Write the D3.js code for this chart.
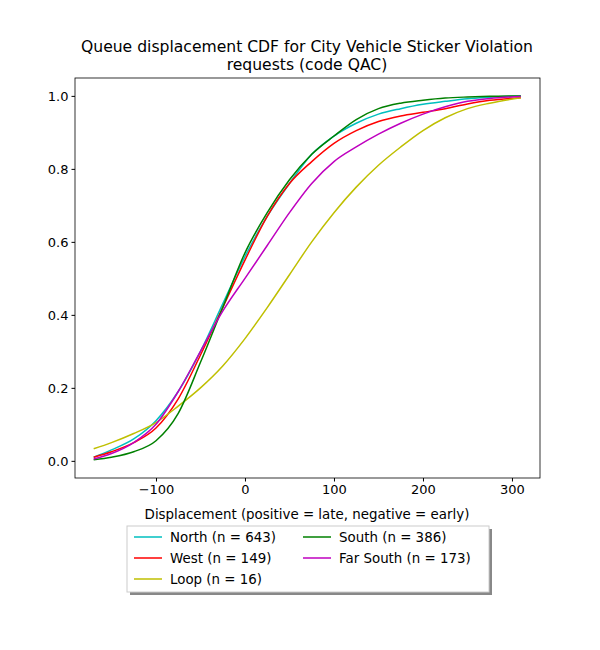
<!DOCTYPE html>
<html><head><meta charset="utf-8">
<script src="https://cdn.jsdelivr.net/npm/d3@7"></script>
<style>body{margin:0;background:#fff}text{font-family:"DejaVu Sans",sans-serif}</style>
</head><body><svg id="c" width="600" height="650"></svg>
<script>
const xs = [-170,-150,-125,-100,-75,-50,-25,0,25,50,75,100,125,150,175,200,225,250,275,310];
const north = [0.01,0.03,0.06,0.11,0.19,0.30,0.43,0.56,0.67,0.76,0.84,0.89,0.925,0.95,0.965,0.977,0.985,0.992,0.996,1.0];
const west = [0.01,0.025,0.05,0.09,0.17,0.29,0.42,0.55,0.67,0.76,0.82,0.87,0.905,0.93,0.945,0.955,0.965,0.978,0.988,0.995];
const loop = [0.033,0.05,0.075,0.105,0.15,0.20,0.26,0.335,0.42,0.51,0.60,0.68,0.75,0.81,0.86,0.905,0.94,0.965,0.98,0.995];
const south = [0.003,0.01,0.025,0.055,0.13,0.27,0.42,0.57,0.68,0.77,0.84,0.89,0.935,0.965,0.98,0.988,0.994,0.997,0.999,1.0];
const farSouth = [0.005,0.02,0.05,0.10,0.19,0.30,0.41,0.50,0.59,0.68,0.76,0.82,0.86,0.895,0.925,0.95,0.97,0.985,0.993,0.998];
const names = ["North (n = 643)","West (n = 149)","Loop (n = 16)","South (n = 386)","Far South (n = 173)"];
const colors = ["#00bfbf","#ff0000","#bfbf00","#008000","#bf00bf"];
const series = [north,west,loop,south,farSouth];
const xTicks = [-100,0,100,200,300];
const yTicks = [0,0.2,0.4,0.6,0.8,1.0];

const svg = d3.select("#c");
const L=75,R=540,T=78,B=478;
const x = d3.scaleLinear().domain([-191,331.5]).range([L,R]);
const y = d3.scaleLinear().domain([-0.047,1.049]).range([B,T]);
const line = d3.line().x((d,i)=>x(xs[i])).y(d=>y(d)).curve(d3.curveMonotoneX);
series.forEach((s,i)=>svg.append("path").attr("d",line(s)).attr("fill","none").attr("stroke",colors[i]).attr("stroke-width",1.5));
svg.append("rect").attr("x",L).attr("y",T).attr("width",R-L).attr("height",B-T).attr("fill","none").attr("stroke","#000").attr("stroke-width",0.8);
const xa = svg.append("g").attr("transform",`translate(0,${B})`).call(d3.axisBottom(x).tickValues(xTicks).tickSize(3.5).tickFormat(d=>d<0?"−"+(-d):d));
const ya = svg.append("g").attr("transform",`translate(${L},0)`).call(d3.axisLeft(y).tickValues(yTicks).tickSize(3.5).tickFormat(d3.format(".1f")));
[xa,ya].forEach(a=>{a.select(".domain").remove();a.selectAll("text").attr("font-size",13).attr("fill","#000");});
svg.append("text").attr("x",307).attr("y",52).attr("text-anchor","middle").attr("font-size",15.6).text("Queue displacement CDF for City Vehicle Sticker Violation");
svg.append("text").attr("x",307).attr("y",70).attr("text-anchor","middle").attr("font-size",15.6).text("requests (code QAC)");
svg.append("text").attr("x",307).attr("y",519).attr("text-anchor","middle").attr("font-size",13.4).text("Displacement (positive = late, negative = early)");
svg.append("rect").attr("x",130).attr("y",529).attr("width",362).attr("height",66).attr("fill","#888");
svg.append("rect").attr("x",127).attr("y",526).attr("width",362).attr("height",66).attr("fill","#fff").attr("stroke","#ccc");
const pos=[[0,0],[0,1],[0,2],[1,0],[1,1]];
names.forEach((n,i)=>{const px=pos[i][0]?303:134, py=537+pos[i][1]*21;
 svg.append("line").attr("x1",px).attr("x2",px+28).attr("y1",py).attr("y2",py).attr("stroke",colors[i]).attr("stroke-width",1.5);
 svg.append("text").attr("x",px+36).attr("y",py+5).attr("font-size",13.4).text(n);});
</script></body></html>
